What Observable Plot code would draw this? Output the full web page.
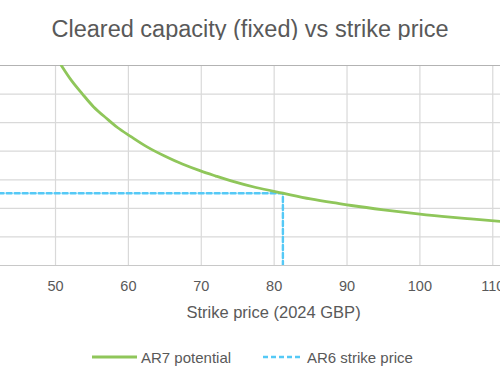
<!DOCTYPE html>
<html>
<head>
<meta charset="utf-8">
<script src="https://cdn.jsdelivr.net/npm/d3@7"></script>
<script src="https://cdn.jsdelivr.net/npm/@observablehq/plot@0.6"></script>
<style>
  html, body { margin: 0; padding: 0; background: #fff; width: 500px; height: 383px; overflow: hidden; }
  body { position: relative; font-family: "Liberation Sans", Arial, sans-serif; color: #595959; }
  #title { position: absolute; left: 0; top: 18px; width: 500px; text-align: center; font-size: 23.5px; line-height: 1; }
  #chart { position: absolute; left: 0; top: 40px; }
  #legend { position: absolute; left: 0; top: 347px; width: 500px; height: 20px; font-size: 15px; }
  .item { position: absolute; top: 0; height: 20px; display: flex; align-items: center; }
  .item svg { margin-right: 4px; }
</style>
</head>
<body>
<div id="title"></div>
<div id="chart"></div>
<div id="legend"></div>
<script>
const titleText = "Cleared capacity (fixed) vs strike price";
const xLabel = "Strike price (2024 GBP)";
const seriesNames = ["AR7 potential", "AR6 strike price"];
const seriesColors = ["#8fc65a", "#55c9f6"];

// AR7 potential curve (strike price, cleared capacity in gridline units)
const ar7Price = [50.8, 52.2, 53.7, 55.2, 56.9, 58.5, 60.3, 62.5, 64.9, 67.4, 69.9, 72.0, 74.1, 77.5, 81.2, 85.0, 88.6, 90.6, 95.0, 100.0, 103.0, 107.0, 111.2];
const ar7Cap   = [7.00, 6.47, 6.00, 5.56, 5.17, 4.83, 4.52, 4.16, 3.84, 3.55, 3.31, 3.13, 2.96, 2.73, 2.53, 2.33, 2.18, 2.10, 1.95, 1.80, 1.72, 1.63, 1.54];

// AR6 strike price marker (horizontal to the curve, then down to the axis)
const ar6Price = [40, 81.2, 81.2];
const ar6Cap   = [2.53, 2.53, 0];

const xTicks = [40, 50, 60, 70, 80, 90, 100, 110];
const yTicks = [0, 1, 2, 3, 4, 5, 6, 7];

const ar7 = ar7Price.map((x, i) => ({x, y: ar7Cap[i]}));
const ar6 = ar6Price.map((x, i) => ({x, y: ar6Cap[i]}));

document.getElementById("title").textContent = titleText;

const plot = Plot.plot({
  width: 500,
  height: 290,
  marginTop: 25,
  marginBottom: 65,
  marginLeft: 0,
  marginRight: 0,
  style: { fontFamily: "Liberation Sans, Arial, sans-serif", color: "#595959", background: "#fff", overflow: "visible" },
  x: { domain: [42.45, 111.06] },
  y: { domain: [0, 7] },
  marks: [
    Plot.ruleY(yTicks.slice(1, -1), { stroke: "#d9d9d9", strokeWidth: 1.2 }),
    Plot.ruleX(xTicks, { stroke: "#d9d9d9", strokeWidth: 1.2, clip: true }),
    Plot.ruleY([7], { stroke: "#b3b3b3", strokeWidth: 1.2 }),
    Plot.ruleY([0], { stroke: "#c8c8c8", strokeWidth: 1.2 }),
    Plot.axisX(xTicks.slice(1), { tickSize: 0, tickPadding: 15, fontSize: 14.5, fill: "#595959", label: null }),
    Plot.axisY({ ticks: [], label: null }),
    Plot.line(ar6, { x: "x", y: "y", stroke: seriesColors[1], strokeWidth: 2.4, strokeDasharray: "5,3", clip: true }),
    Plot.line(ar7, { x: "x", y: "y", stroke: seriesColors[0], strokeWidth: 2.8, curve: "natural", clip: true }),
    Plot.text([xLabel], { frameAnchor: "bottom", dx: 23, dy: 47, lineAnchor: "middle", fontSize: 16.5, fill: "#595959" })
  ]
});
document.getElementById("chart").appendChild(plot);

const legend = document.getElementById("legend");
const legendX = [92, 263];
const legendW = [45, 40];
seriesNames.forEach((name, i) => {
  const item = document.createElement("div");
  item.className = "item";
  item.style.left = legendX[i] + "px";
  const dash = i === 1 ? ' stroke-dasharray="5,3"' : '';
  item.innerHTML = `<svg width="${legendW[i]}" height="6"><line x1="0" y1="3" x2="${legendW[i]}" y2="3" stroke="${seriesColors[i]}" stroke-width="${i === 1 ? 2.4 : 2.8}"${dash}/></svg><span>${name}</span>`;
  legend.appendChild(item);
});
</script>
</body>
</html>
